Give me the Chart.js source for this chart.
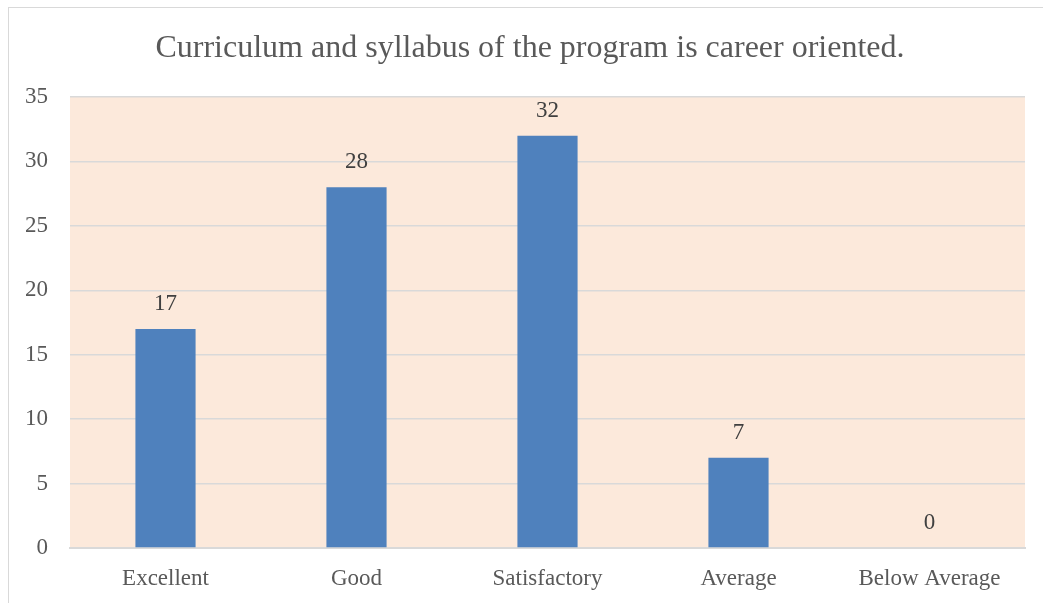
<!DOCTYPE html>
<html>
<head>
<meta charset="utf-8">
<script src="https://cdn.jsdelivr.net/npm/chart.js@4"></script>
<style>
  html, body { margin: 0; padding: 0; background: #fff; }
  #wrap { position: relative; width: 1043px; height: 603px; }
  #frame { position: absolute; left: 8px; top: 7px; width: 1100px; height: 700px; border: 1.5px solid #d9d9d9; box-sizing: border-box; }
  canvas { position: absolute; left: 0; top: 0; }
</style>
</head>
<body>
<div id="wrap">
  <div id="frame"></div>
  <canvas id="grafico" width="1043" height="603"></canvas>
</div>
<script>
// dati del grafico
const categorie = ["Excellent", "Good", "Satisfactory", "Average", "Below Average"];
const valori = [17, 28, 32, 7, 0];
const titolo = "Curriculum and syllabus of the program is career oriented.";
const yMax = 35;
const yStep = 5;

const FONT = "'Liberation Serif', 'Times New Roman', serif";

// sfondo area del grafico + titolo + etichette valori
const pluginExtra = {
  id: 'extra',
  beforeDraw(chart) {
    const { ctx, chartArea: a } = chart;
    ctx.save();
    ctx.fillStyle = '#fce9db';
    ctx.fillRect(a.left, a.top, a.right - a.left, a.bottom - a.top);
    ctx.fillStyle = '#595959';
    ctx.font = '32px ' + FONT;
    ctx.textAlign = 'center';
    ctx.textBaseline = 'middle';
    ctx.fillText(titolo, 530, 49);
    ctx.restore();
  },
  afterDatasetsDraw(chart) {
    const { ctx } = chart;
    const meta = chart.getDatasetMeta(0);
    ctx.save();
    ctx.fillStyle = '#404040';
    ctx.font = '23px ' + FONT;
    ctx.textAlign = 'center';
    ctx.textBaseline = 'middle';
    meta.data.forEach((bar, i) => {
      ctx.fillText(String(valori[i]), bar.x, bar.y - 25);
    });
    ctx.restore();
  }
};

new Chart(document.getElementById('grafico'), {
  type: 'bar',
  data: {
    labels: categorie,
    datasets: [{
      data: valori,
      backgroundColor: '#4f81bd',
      categoryPercentage: 1,
      barPercentage: 0.315
    }]
  },
  options: {
    responsive: false,
    animation: false,
    layout: { padding: { top: 97, right: 18, left: 0, bottom: 0 } },
    plugins: { legend: { display: false }, title: { display: false }, tooltip: { enabled: false } },
    scales: {
      x: {
        grid: { display: false, drawTicks: false },
        border: { display: true, color: '#d9d9d9', width: 2 },
        ticks: { color: '#595959', font: { family: FONT, size: 23 }, padding: 17, maxRotation: 0 },
        afterFit(scale) { scale.height = 55; }
      },
      y: {
        min: 0, max: yMax,
        grid: { color: '#d9d9d9', lineWidth: 1.5, drawTicks: false },
        border: { display: false },
        ticks: { stepSize: yStep, color: '#595959', font: { family: FONT, size: 23 }, padding: 22 },
        afterFit(scale) { scale.width = 70; }
      }
    }
  },
  plugins: [pluginExtra]
});
</script>
</body>
</html>
